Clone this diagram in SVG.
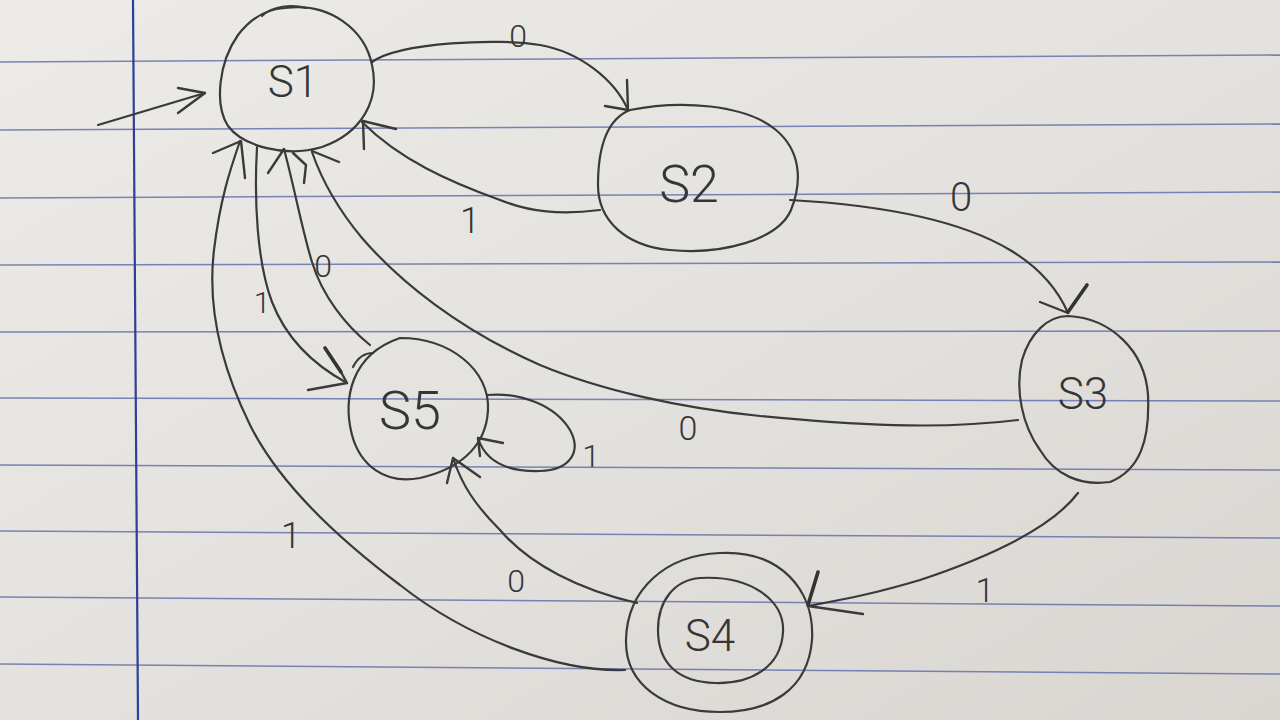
<svg xmlns="http://www.w3.org/2000/svg" width="1280" height="720" viewBox="0 0 1280 720">
<defs>
<linearGradient id="paper" x1="0" y1="0" x2="1" y2="1">
<stop offset="0" stop-color="#ecebe8"/>
<stop offset="0.5" stop-color="#e4e2de"/>
<stop offset="1" stop-color="#d9d6d2"/>
</linearGradient>
<style>
.rule{stroke:#5c69a8;stroke-width:1.5;fill:none;opacity:0.8}
.margin{stroke:#2f3f96;stroke-width:2.2;fill:none}
.pen{stroke:#3a3a3a;stroke-width:2.2;fill:none;stroke-linecap:round;stroke-linejoin:round}
.head{stroke:#3a3a3a;stroke-width:2.4;fill:none;stroke-linecap:round;stroke-linejoin:round}
.press{stroke:#333;stroke-width:3.6;fill:none;stroke-linecap:round}
.lbl{font-family:"Roboto","Liberation Sans","DejaVu Sans",sans-serif;font-weight:300;fill:#363636;text-anchor:middle}
.name{font-family:"Roboto","Liberation Sans","DejaVu Sans",sans-serif;font-weight:300;fill:#363636;text-anchor:middle}
</style>
</defs>
<rect x="0" y="0" width="1280" height="720" fill="url(#paper)"/>
<g id="paper-lines">
<line class="rule" x1="0" y1="62" x2="1280" y2="55"/>
<line class="rule" x1="0" y1="130" x2="1280" y2="124"/>
<line class="rule" x1="0" y1="198" x2="1280" y2="192"/>
<line class="rule" x1="0" y1="265" x2="1280" y2="262"/>
<line class="rule" x1="0" y1="332" x2="1280" y2="331"/>
<line class="rule" x1="0" y1="398" x2="1280" y2="401"/>
<line class="rule" x1="0" y1="465" x2="1280" y2="470"/>
<line class="rule" x1="0" y1="531" x2="1280" y2="538"/>
<line class="rule" x1="0" y1="597" x2="1280" y2="606"/>
<line class="rule" x1="0" y1="664" x2="1280" y2="674"/>
<line class="margin" x1="133" y1="0" x2="138" y2="720"/>
</g>
<g id="connectors">
<g id="e-init">
<path class="pen" d="M98,125 L205,93"/>
<path class="head" d="M178,88 L205,93 L178,113"/>
</g>
<g id="e-s1-s2">
<path class="pen" d="M372,62 C400,42 500,38 540,45 C580,52 615,80 628,110"/>
<path class="head" d="M627,80 L628,110 L605,106"/>
<text class="lbl" x="518" y="47" font-size="32">0</text>
</g>
<g id="e-s2-s1">
<path class="pen" d="M600,210 C560,215 530,212 500,200 C450,182 400,160 362,122"/>
<path class="head" d="M396,129 L363,121 L364,149"/>
<text class="lbl" x="470" y="233" font-size="36">1</text>
</g>
<g id="e-s2-s3">
<path class="pen" d="M790,200 C880,205 960,220 1010,250 C1040,268 1058,290 1068,313"/>
<path class="head" d="M1040,302 L1068,313"/>
<path class="press" d="M1087,285 L1068,312"/>
<text class="lbl" x="961" y="211" font-size="40">0</text>
</g>
<g id="e-s3-s1">
<path class="pen" d="M1018,420 C940,430 850,425 760,416 C680,408 600,390 540,365 C460,330 400,282 362,238 C337,208 321,178 312,152"/>
<path class="head" d="M339,162 L312,151"/>
<path class="head" d="M293,153 L306,165 L304,183"/>
<text class="lbl" x="688" y="440" font-size="34">0</text>
</g>
<g id="e-s1-s5">
<path class="pen" d="M257,147 C254,200 257,262 272,302 C286,338 312,364 347,383"/>
<path class="press" d="M325,348 L341,372"/>
<path class="head" d="M341,372 L347,383 L308,390"/>
<text class="lbl" x="262" y="313" font-size="30">1</text>
</g>
<g id="e-s5-s1">
<path class="pen" d="M370,345 C345,325 322,295 312,262 C302,230 295,190 284,149"/>
<path class="head" d="M268,173 L284,149"/>
<text class="lbl" x="323" y="277" font-size="32">0</text>
</g>
<g id="e-s5-s5">
<path class="pen" d="M487,395 C520,392 555,405 570,430 C582,452 570,470 540,471 C505,472 485,460 478,438"/>
<path class="head" d="M503,443 L478,438 L480,456"/>
<text class="lbl" x="591" y="467" font-size="32">1</text>
</g>
<g id="e-s3-s4">
<path class="pen" d="M1078,493 C1050,530 980,560 920,580 C870,595 840,600 808,606"/>
<path class="press" d="M818,572 L808,605"/>
<path class="head" d="M808,606 L863,614"/>
<text class="lbl" x="985" y="602" font-size="34">1</text>
</g>
<g id="e-s4-s5">
<path class="pen" d="M637,603 C580,590 530,565 500,530 C475,505 462,485 453,458"/>
<path class="head" d="M447,483 L453,458 L480,477"/>
<text class="lbl" x="516" y="592" font-size="32">0</text>
</g>
<g id="e-s4-s1">
<path class="pen" d="M625,670 C560,672 470,640 400,585 C340,540 280,485 250,425 C218,360 208,300 214,250 C220,200 230,170 240,141"/>
<path class="head" d="M213,153 L241,141 L245,178"/>
<text class="lbl" x="291" y="548" font-size="36">1</text>
</g>
</g>
<g id="S1">
<path class="pen" d="M285,8 C330,2 365,30 372,65 C380,100 362,133 322,147 C285,158 243,146 228,126 C214,104 219,62 238,35 C251,18 266,9 285,8 Z"/>
<path class="pen" d="M262,16 C272,6 292,4 306,8"/>
<text class="name" x="293" y="97" font-size="44">S1</text>
</g>
<g id="S2">
<path class="pen" d="M630,110 C680,100 745,104 776,130 C800,150 803,180 791,210 C778,240 722,255 670,250 C625,246 598,220 598,185 C598,150 605,120 630,110 Z"/>
<text class="name" x="689" y="202" font-size="52">S2</text>
</g>
<g id="S3">
<path class="pen" d="M1068,316 C1110,318 1145,350 1148,395 C1150,440 1140,470 1110,482 C1080,486 1055,475 1040,450 C1022,425 1015,390 1022,360 C1030,333 1048,316 1068,316 Z"/>
<text class="name" x="1083" y="409" font-size="44">S3</text>
</g>
<g id="S4">
<path class="pen" d="M720,553 C780,550 815,590 812,640 C808,690 770,712 720,712 C665,712 625,685 626,640 C627,590 665,555 720,553 Z"/>
<path class="pen" d="M700,578 C750,575 785,600 783,632 C781,668 750,684 715,683 C680,682 658,665 658,630 C658,600 675,580 700,578 Z"/>
<text class="name" x="710" y="651" font-size="44">S4</text>
</g>
<g id="S5">
<path class="pen" d="M400,338 C450,338 490,370 488,410 C486,450 455,470 420,478 C385,485 360,465 352,435 C343,400 350,355 400,338 Z"/>
<path class="pen" d="M353,367 C358,357 365,353 373,353"/>
<text class="name" x="410" y="429" font-size="54">S5</text>
</g>
</svg>
